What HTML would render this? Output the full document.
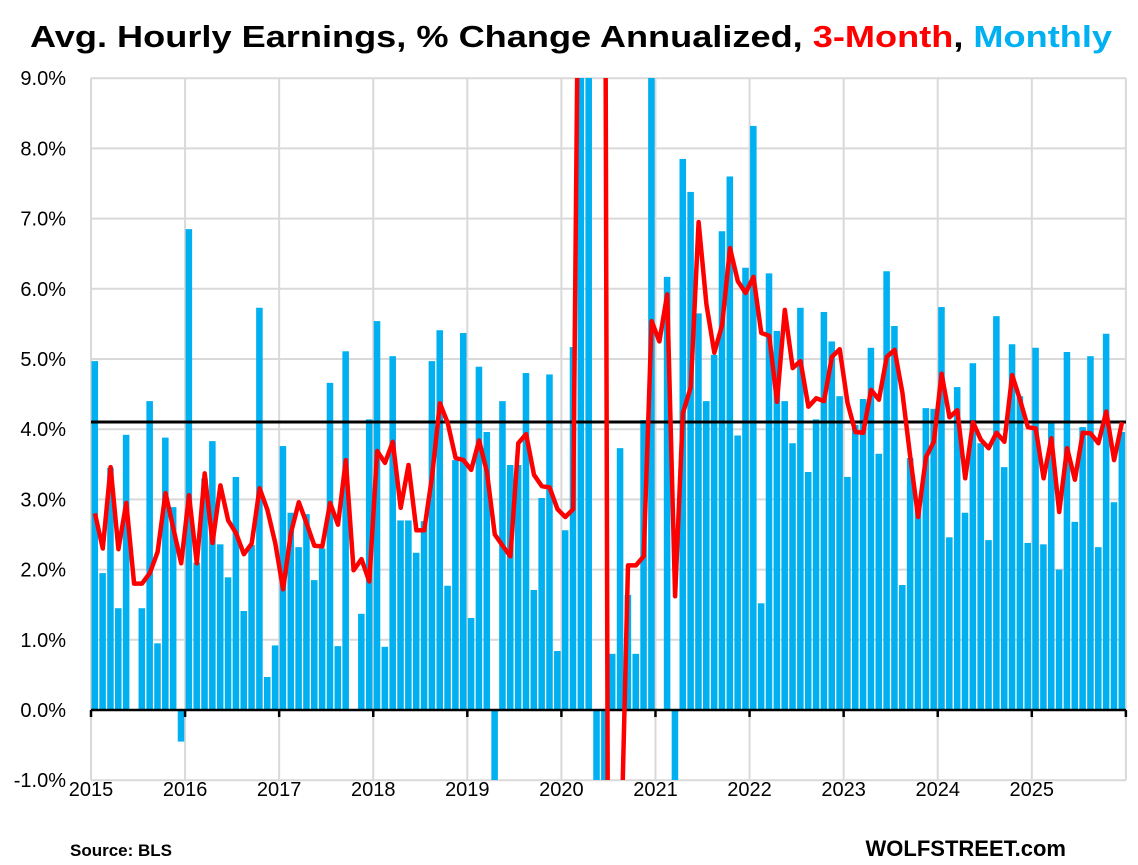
<!DOCTYPE html>
<html><head><meta charset="utf-8"><style>
html,body{margin:0;padding:0;background:#fff;width:1138px;height:865px;overflow:hidden;}
svg{display:block;font-family:"Liberation Sans",sans-serif;}
</style></head><body>
<svg id="c" width="1138" height="865" xmlns="http://www.w3.org/2000/svg">
<defs><clipPath id="pc"><rect x="88" y="78" width="1045" height="702"/></clipPath></defs>
<g id="grid"></g>
<g id="bars" clip-path="url(#pc)"></g>
<line x1="91" y1="422" x2="1126" y2="422" stroke="#000" stroke-width="3"/>
<g id="axis"></g>
<g clip-path="url(#pc)"><polyline id="red" fill="none" stroke="#ff0000" stroke-width="4.5" stroke-linejoin="round"/></g>
<text x="30" y="47" font-size="31" font-weight="bold" textLength="1082" lengthAdjust="spacingAndGlyphs"><tspan fill="#000">Avg. Hourly Earnings, % Change Annualized, </tspan><tspan fill="#ff0000">3-Month</tspan><tspan fill="#000">, </tspan><tspan fill="#00b0f0">Monthly</tspan></text>
<text x="70" y="856" font-size="17" font-weight="bold">Source: BLS</text>
<text x="1066" y="856" font-size="22" font-weight="bold" text-anchor="end">WOLFSTREET.com</text>
</svg>
<script>
var m=[4.97,1.95,3.45,1.45,3.92,0,1.45,4.4,0.95,3.88,2.89,-0.45,
6.85,2.1,3.3,3.83,2.36,1.89,3.32,1.41,2.35,5.73,0.47,0.92,
3.76,2.81,2.32,2.79,1.85,2.3,4.66,0.91,5.11,0,1.37,4.14,
5.54,0.9,5.04,2.7,2.7,2.24,2.69,4.97,5.41,1.77,3.56,5.37,
1.31,4.89,3.96,-1.5,4.4,3.49,3.49,4.8,1.71,3.02,4.78,0.84,
2.56,5.17,20,20,-3,-3,0.8,3.73,1.64,0.8,4.13,20,
0,6.17,-1.5,7.85,7.38,5.65,4.4,5.06,6.82,7.6,3.91,6.3,
8.32,1.52,6.22,5.4,4.4,3.8,5.73,3.39,4.14,5.67,5.25,4.47,
3.32,4.06,4.43,5.16,3.65,6.25,5.47,1.78,3.59,2.9,4.3,4.29,
5.74,2.46,4.6,2.81,4.94,3.8,2.42,5.61,3.46,5.21,4.47,2.38,
5.16,2.36,4.1,2.0,5.1,2.68,4.03,5.04,2.32,5.36,2.96,3.96];
var r=[2.8,2.3,3.46,2.29,2.95,1.8,1.8,1.95,2.25,3.09,2.59,2.09,
3.06,2.09,3.37,2.38,3.2,2.7,2.52,2.22,2.37,3.16,2.85,2.38,
1.72,2.52,2.96,2.66,2.34,2.33,2.95,2.64,3.56,1.99,2.15,1.83,
3.69,3.52,3.82,2.88,3.49,2.56,2.56,3.32,4.37,4.09,3.59,3.56,
3.42,3.84,3.39,2.5,2.34,2.19,3.8,3.93,3.35,3.19,3.17,2.86,
2.75,2.86,15,30,25,15,-25,-2.5,2.06,2.06,2.19,5.54,
5.25,5.92,1.62,4.23,4.6,6.95,5.78,5.09,5.48,6.58,6.11,5.94,
6.17,5.37,5.33,4.39,5.7,4.87,4.97,4.32,4.44,4.4,5.03,5.14,4.37,
3.96,3.95,4.56,4.42,5.03,5.13,4.52,3.6,2.75,3.6,3.82,4.79,
4.17,4.27,3.3,4.1,3.85,3.73,3.95,3.82,4.77,4.42,4.03,4.01,
3.3,3.87,2.82,3.73,3.28,3.95,3.94,3.8,4.25,3.56,4.1];
var NS="http://www.w3.org/2000/svg",x0=91,dx=7.84,y0=710,k=70.2;
function el(p,t,a,txt){var e=document.createElementNS(NS,t);for(var q in a)e.setAttribute(q,a[q]);if(txt!=null)e.textContent=txt;document.getElementById(p).appendChild(e);}
for(var v=-1;v<=9;v++){var y=y0-v*k;el("grid","line",{x1:91,x2:1126,y1:y,y2:y,stroke:"#d9d9d9","stroke-width":2});
el("grid","text",{x:66,y:y+7,"font-size":20,"text-anchor":"end"},v.toFixed(1)+"%");}
for(var i=0;i<=11;i++){var x=x0+i*dx*12;el("grid","line",{x1:x,x2:x,y1:78,y2:780,stroke:"#d9d9d9","stroke-width":2});
el("axis","line",{x1:x,x2:x,y1:710,y2:717,stroke:"#000","stroke-width":2.5});
if(i<11)el("axis","text",{x:x,y:796,"font-size":20,"text-anchor":"middle"},String(2015+i));}
el("axis","line",{x1:91,x2:1126,y1:710,y2:710,stroke:"#000","stroke-width":2.5});
for(var i=0;i<m.length;i++){var v=m[i];if(!v)continue;var x=x0+i*dx+0.5,h=Math.abs(v)*k;
el("bars","rect",{x:x,y:v>0?y0-h:y0,width:dx-1.3,height:h,fill:"#00b0f0"});}
var pts=[];for(var i=0;i<r.length;i++)pts.push((x0+i*dx+dx/2).toFixed(1)+","+(y0-r[i]*k).toFixed(1));
document.getElementById("red").setAttribute("points",pts.join(" "));
</script>
</body></html>
